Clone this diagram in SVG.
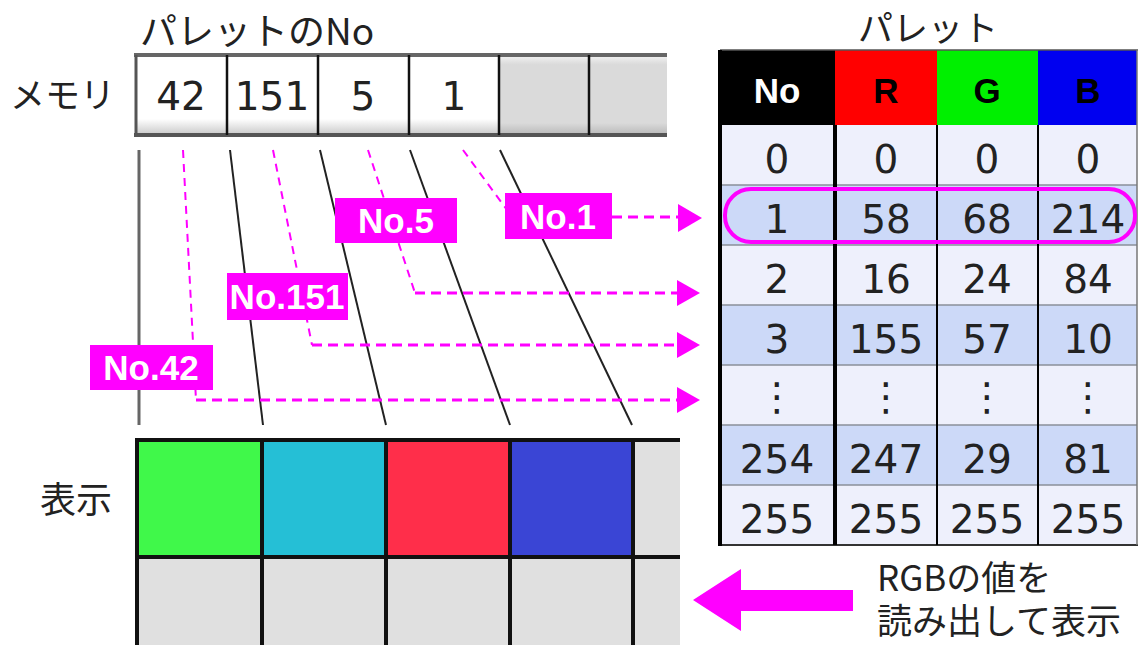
<svg xmlns="http://www.w3.org/2000/svg" width="1140" height="645" viewBox="0 0 1140 645">
<defs>
<style>
.jp{font-family:"Noto Sans CJK JP","Noto Sans",sans-serif;fill:#222}
.num{font-family:"DejaVu Sans","Noto Sans",sans-serif;font-size:39px;fill:#222;text-anchor:middle}
.hdr{font-family:"Liberation Sans",Arial,sans-serif;font-weight:bold;font-size:35px;text-anchor:middle}
.lbl{fill:#FF00FF}
.lbltx{font-family:"Liberation Sans",Arial,sans-serif;font-weight:bold;font-size:35px;fill:#fff;text-anchor:middle}
.solid{stroke:#222;stroke-width:2;fill:none}
.dash{stroke:#FF00FF;stroke-width:2;stroke-dasharray:8 6;fill:none}
.dashh{stroke:#FF00FF;stroke-width:3;stroke-dasharray:10 6;fill:none}
.ah{fill:#FF00FF}
.rowL{fill:#EEF0FC}
.rowB{fill:#CCD9F8}
.sep{stroke:#8a8f9a;stroke-width:1.5}
</style>
<linearGradient id="gw" x1="0" y1="0" x2="0" y2="1">
<stop offset="0" stop-color="#ffffff"/><stop offset="0.8" stop-color="#ffffff"/><stop offset="1" stop-color="#c8c8c8"/>
</linearGradient>
<linearGradient id="gg" x1="0" y1="0" x2="0" y2="1">
<stop offset="0" stop-color="#f4f4f4"/><stop offset="0.12" stop-color="#dadada"/><stop offset="0.85" stop-color="#dadada"/><stop offset="1" stop-color="#b8b8b8"/>
</linearGradient>
</defs>
<rect width="1140" height="645" fill="#fff"/>

<g id="memory">
<text class="jp" x="140" y="45" font-size="37">パレットのNo</text>
<text class="jp" x="10" y="108" font-size="35">メモリ</text>
<rect x="136" y="55" width="363" height="80" fill="url(#gw)"/>
<rect x="499" y="55" width="168" height="80" fill="url(#gg)"/>
<line x1="134" y1="55" x2="667" y2="55" stroke="#666" stroke-width="4"/>
<line x1="134" y1="135" x2="667" y2="135" stroke="#555" stroke-width="4"/>
<line x1="136" y1="55" x2="136" y2="135" stroke="#555" stroke-width="3"/>
<g stroke="#111" stroke-width="2.5">
<line x1="227" y1="55" x2="227" y2="135"/>
<line x1="318" y1="55" x2="318" y2="135"/>
<line x1="409" y1="55" x2="409" y2="135"/>
<line x1="499" y1="55" x2="499" y2="135"/>
<line x1="589" y1="55" x2="589" y2="135"/>
</g>
<text class="num" x="181" y="110" font-size="37">42</text>
<text class="num" x="272" y="110" font-size="37">151</text>
<text class="num" x="363" y="110" font-size="37">5</text>
<text class="num" x="454" y="110" font-size="37">1</text>
</g>

<g id="connectors">
<line x1="139" y1="150" x2="139" y2="425" stroke="#666" stroke-width="3"/>
<line class="solid" x1="230" y1="150" x2="263" y2="425"/>
<line class="solid" x1="320" y1="150" x2="386" y2="425"/>
<line class="solid" x1="410" y1="150" x2="510" y2="425"/>
<line class="solid" x1="500" y1="150" x2="632" y2="425"/>
<polyline class="dash" points="183,150 196,400"/>
<polyline class="dashh" points="196,400 682,400"/>
<polyline class="dash" points="273,150 312,345"/>
<polyline class="dashh" points="312,345 682,345"/>
<polyline class="dash" points="368,150 415,293"/>
<polyline class="dashh" points="415,293 682,293"/>
<polyline class="dash" points="463,150 507,210"/>
<polyline class="dashh" points="612,217 682,217"/>
<polygon class="ah" points="678,204 702,218 678,232"/>
<polygon class="ah" points="677,280 700,293 677,306"/>
<polygon class="ah" points="677,332 700,345 677,358"/>
<polygon class="ah" points="677,387 700,400 677,413"/>
</g>

<g id="label-no5"><rect class="lbl" x="335" y="198" width="122" height="45"/><text class="lbltx" x="396" y="233">No.5</text></g>
<g id="label-no1"><rect class="lbl" x="505" y="193" width="107" height="46"/><text class="lbltx" x="558" y="229">No.1</text></g>
<g id="label-no151"><rect class="lbl" x="227" y="273" width="121" height="47"/><text class="lbltx" x="287" y="309" font-size="33">No.151</text></g>
<g id="label-no42"><rect class="lbl" x="90" y="345" width="123" height="45"/><text class="lbltx" x="151" y="380">No.42</text></g>

<g id="display">
<text class="jp" x="40" y="513" font-size="36">表示</text>
<rect x="135" y="440" width="545" height="205" fill="#e0e0e0"/>
<rect x="137" y="442" width="125" height="115" fill="#40F84A"/>
<rect x="262" y="442" width="124" height="115" fill="#25BFD6"/>
<rect x="386" y="442" width="124" height="115" fill="#FF2E4A"/>
<rect x="510" y="442" width="123" height="115" fill="#3A45D5"/>
<g stroke="#111" stroke-width="4">
<line x1="135" y1="440" x2="680" y2="440"/>
<line x1="135" y1="557" x2="680" y2="557"/>
<line x1="137" y1="438" x2="137" y2="645"/>
<line x1="262" y1="440" x2="262" y2="645"/>
<line x1="386" y1="440" x2="386" y2="645"/>
<line x1="510" y1="440" x2="510" y2="645"/>
<line x1="633" y1="440" x2="633" y2="645"/>
</g>
</g>

<g id="palette">
<text class="jp" x="928" y="41" font-size="35" text-anchor="middle">パレット</text>
<rect x="720" y="50" width="115" height="75" fill="#000"/>
<rect x="835" y="50" width="102" height="75" fill="#FF0000"/>
<rect x="937" y="50" width="101" height="75" fill="#00F000"/>
<rect x="1038" y="50" width="99" height="75" fill="#0000F0"/>
<text class="hdr" x="777" y="103" fill="#fff">No</text>
<text class="hdr" x="886" y="103" fill="#000">R</text>
<text class="hdr" x="987" y="103" fill="#000">G</text>
<text class="hdr" x="1088" y="103" fill="#000">B</text>
<rect class="rowL" x="720" y="125" width="417" height="60"/>
<rect class="rowB" x="720" y="185" width="417" height="60"/>
<rect class="rowL" x="720" y="245" width="417" height="60"/>
<rect class="rowB" x="720" y="305" width="417" height="60"/>
<rect class="rowL" x="720" y="365" width="417" height="60"/>
<rect class="rowB" x="720" y="425" width="417" height="60"/>
<rect class="rowL" x="720" y="485" width="417" height="60"/>
<g class="sep">
<line x1="720" y1="185" x2="1137" y2="185"/>
<line x1="720" y1="245" x2="1137" y2="245"/>
<line x1="720" y1="305" x2="1137" y2="305"/>
<line x1="720" y1="365" x2="1137" y2="365"/>
<line x1="720" y1="425" x2="1137" y2="425"/>
<line x1="720" y1="485" x2="1137" y2="485"/>
</g>
<line x1="720" y1="545" x2="1138" y2="545" stroke="#333" stroke-width="2"/>
<line x1="720" y1="50" x2="1138" y2="50" stroke="#555" stroke-width="1.5"/>
<line x1="1137" y1="50" x2="1137" y2="545" stroke="#777" stroke-width="1.5"/>
<line x1="720" y1="50" x2="720" y2="546" stroke="#000" stroke-width="4"/>
<line x1="835" y1="125" x2="835" y2="545" stroke="#000" stroke-width="4"/>
<line x1="937" y1="125" x2="937" y2="545" stroke="#000" stroke-width="2"/>
<line x1="1038" y1="125" x2="1038" y2="545" stroke="#000" stroke-width="2"/>
<g>
<text class="num" x="777" y="173">0</text><text class="num" x="886" y="173">0</text><text class="num" x="987" y="173">0</text><text class="num" x="1088" y="173">0</text>
<text class="num" x="777" y="233">1</text><text class="num" x="886" y="233">58</text><text class="num" x="987" y="233">68</text><text class="num" x="1088" y="233">214</text>
<text class="num" x="777" y="293">2</text><text class="num" x="886" y="293">16</text><text class="num" x="987" y="293">24</text><text class="num" x="1088" y="293">84</text>
<text class="num" x="777" y="353">3</text><text class="num" x="886" y="353">155</text><text class="num" x="987" y="353">57</text><text class="num" x="1088" y="353">10</text>
<text class="num" x="777" y="410">⋮</text><text class="num" x="886" y="410">⋮</text><text class="num" x="987" y="410">⋮</text><text class="num" x="1088" y="410">⋮</text>
<text class="num" x="777" y="473">254</text><text class="num" x="886" y="473">247</text><text class="num" x="987" y="473">29</text><text class="num" x="1088" y="473">81</text>
<text class="num" x="777" y="533">255</text><text class="num" x="886" y="533">255</text><text class="num" x="987" y="533">255</text><text class="num" x="1088" y="533">255</text>
</g>
<rect x="725" y="189" width="410" height="53" rx="26" ry="26" fill="none" stroke="#FF00FF" stroke-width="4"/>
</g>

<g id="read-arrow">
<polygon fill="#FF00FF" points="693,600 741,569 741,590 853,590 853,611 741,611 741,631"/>
<text class="jp" font-size="35"><tspan x="877" y="591">RGBの値を</tspan><tspan x="877" y="634">読み出して表示</tspan></text>
</g>
</svg>
